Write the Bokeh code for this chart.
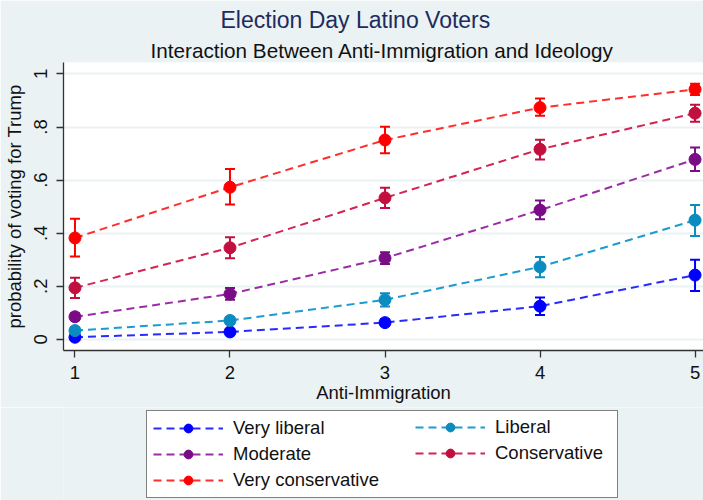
from bokeh.plotting import figure
from bokeh.layouts import column
from bokeh.models import (ColumnDataSource, Whisker, TeeHead, Legend, LegendItem,
                          Title, FixedTicker, Range1d)
from bokeh.embed import file_html
from bokeh.resources import INLINE

anti_immigration = [1, 2, 3, 4, 5]
groups = ["Very liberal", "Liberal", "Moderate", "Conservative", "Very conservative"]

very_liberal = [0.008, 0.028, 0.063, 0.125, 0.242]
very_liberal_lo = [0.001, 0.018, 0.050, 0.092, 0.182]
very_liberal_hi = [0.015, 0.038, 0.076, 0.158, 0.300]

liberal = [0.033, 0.071, 0.149, 0.273, 0.449]
liberal_lo = [0.022, 0.058, 0.124, 0.234, 0.389]
liberal_hi = [0.044, 0.084, 0.174, 0.310, 0.506]

moderate = [0.085, 0.171, 0.306, 0.487, 0.678]
moderate_lo = [0.072, 0.149, 0.284, 0.452, 0.634]
moderate_hi = [0.098, 0.193, 0.328, 0.523, 0.723]

conservative = [0.194, 0.345, 0.533, 0.716, 0.852]
conservative_lo = [0.156, 0.306, 0.495, 0.678, 0.820]
conservative_hi = [0.232, 0.385, 0.571, 0.752, 0.884]

very_conservative = [0.382, 0.573, 0.751, 0.873, 0.942]
very_conservative_lo = [0.312, 0.508, 0.701, 0.842, 0.921]
very_conservative_hi = [0.454, 0.642, 0.801, 0.907, 0.963]

series = [
    (very_liberal, very_liberal_lo, very_liberal_hi),
    (liberal, liberal_lo, liberal_hi),
    (moderate, moderate_lo, moderate_hi),
    (conservative, conservative_lo, conservative_hi),
    (very_conservative, very_conservative_lo, very_conservative_hi),
]
marker_colors = ["#0000FF", "#0A8CC0", "#7A0C86", "#C20F3E", "#FF0000"]
line_colors = ["#2A2AFF", "#1A9CD0", "#9A2CA6", "#D42452", "#FF2E2E"]

FONT = "Liberation Sans"
BG = "#EAF2F3"

p = figure(width=703, height=407, x_range=Range1d(0.926, 5.0546), y_range=Range1d(-0.042, 1.043),
           output_backend="svg", toolbar_location=None, title=None,
           background_fill_color="white", border_fill_color=BG,
           min_border_left=61, min_border_right=0, min_border_top=0, min_border_bottom=57)
p.outline_line_color = None

# legend strip below the plot (its ranges keep the sample renderers out of view)
p2 = figure(width=703, height=93, x_range=Range1d(100, 101), y_range=Range1d(100, 101),
            output_backend="svg", toolbar_location=None, title=None,
            x_axis_location=None, y_axis_location=None,
            background_fill_color=BG, border_fill_color=BG,
            min_border_left=0, min_border_right=0, min_border_top=0, min_border_bottom=0)
p2.outline_line_color = None
p2.grid.visible = False

items = {}
for name, (vals, lo, hi), mc, lc in zip(groups, series, marker_colors, line_colors):
    src = ColumnDataSource(dict(x=anti_immigration, y=vals, lo=lo, hi=hi))
    w = Whisker(source=src, base="x", upper="hi", lower="lo", dimension="height",
                line_color=mc, line_width=2,
                upper_head=TeeHead(size=10, line_color=mc, line_width=2),
                lower_head=TeeHead(size=10, line_color=mc, line_width=2))
    p.add_layout(w)
    p.line("x", "y", source=src, line_color=lc, line_width=2, line_dash="8 5")
    p.scatter("x", "y", source=src, marker="circle", size=12, fill_color=mc, line_color=mc)
    lr = p2.line("x", "y", source=src, line_color=lc, line_width=2, line_dash="8 5")
    sr = p2.scatter("x", "y", source=src, marker="circle", size=12, fill_color=mc, line_color=mc)
    items[name] = LegendItem(label=name, renderers=[lr, sr])

# titles
p.add_layout(Title(text="Interaction Between Anti-Immigration and Ideology", align="left", offset=87,
                   text_font=FONT, text_font_size="20.7px", text_font_style="normal",
                   text_color="#111111", standoff=1), "above")
p.add_layout(Title(text="Election Day Latino Voters", align="left", offset=153,
                   text_font=FONT, text_font_size="23px", text_font_style="normal",
                   text_color="#1E2B5E", standoff=0, padding=4), "above")

# axes
p.xgrid.visible = False
p.ygrid.ticker = FixedTicker(ticks=[0, 0.2, 0.4, 0.6, 0.8, 1])
p.ygrid.grid_line_color = BG
p.ygrid.grid_line_width = 2

p.xaxis.ticker = FixedTicker(ticks=anti_immigration)
p.yaxis.ticker = FixedTicker(ticks=[0, 0.2, 0.4, 0.6, 0.8, 1])
p.yaxis.major_label_overrides = {0: "0", 0.2: ".2", 0.4: ".4", 0.6: ".6", 0.8: ".8", 1: "1"}
p.yaxis.major_label_orientation = "vertical"
p.xaxis.axis_label = "Anti-Immigration"
p.yaxis.axis_label = "probability of voting for Trump"
for ax in (p.xaxis[0], p.yaxis[0]):
    ax.axis_label_text_font = FONT
    ax.axis_label_text_font_size = "18.5px"
    ax.axis_label_text_font_style = "normal"
    ax.axis_label_text_color = "#111111"
    ax.major_label_text_font = FONT
    ax.major_label_text_font_size = "18.5px"
    ax.major_label_text_color = "#111111"
    ax.axis_line_color = "#333333"
    ax.axis_line_width = 1.3
    ax.major_tick_line_color = "#333333"
    ax.major_tick_line_width = 1.3
    ax.major_tick_out = 7
    ax.major_tick_in = 0
    ax.minor_tick_line_color = None
p.xaxis.major_label_standoff = 8
p.xaxis.axis_label_standoff = 0
p.yaxis.major_label_standoff = 9
p.yaxis.axis_label_standoff = 7

common = dict(label_text_font=FONT, label_text_font_size="18.5px", label_text_color="#111111",
              glyph_width=70, glyph_height=22, label_height=22, label_standoff=10,
              padding=6, spacing=4, margin=0, orientation="vertical")
legend_a = Legend(items=[items["Very liberal"], items["Moderate"], items["Very conservative"]],
                  location=(83, 2), border_line_color="black", border_line_width=1,
                  background_fill_color="white", background_fill_alpha=1,
                  label_width=378, **common)
legend_b = Legend(items=[items["Liberal"], items["Conservative"]],
                  location=(352, 36), border_line_color=None,
                  background_fill_alpha=0, **common)
p2.add_layout(legend_a)
p2.add_layout(legend_b)

layout = column(p, p2, spacing=0)
open("out.html", "w").write(file_html(layout, INLINE))
